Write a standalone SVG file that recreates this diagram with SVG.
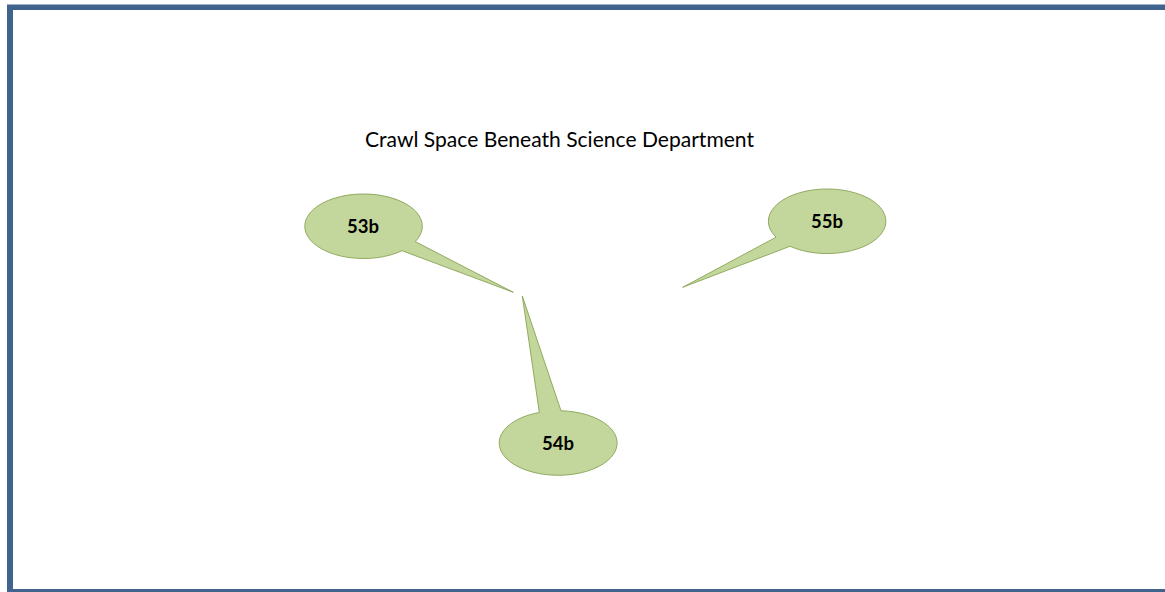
<svg xmlns="http://www.w3.org/2000/svg" width="1165" height="592" viewBox="0 0 1165 592">
<style>
.frame{fill:#41648f}
.callout{fill:#c3d69b;stroke:#7f9a48;stroke-width:.8;stroke-linejoin:miter}
text{font-family:Lato,"Liberation Sans",sans-serif;fill:#000}
.title{font-size:20.5px}
.label{font-size:18.5px;font-weight:700;text-anchor:middle}
</style>
<rect width="1165" height="592" fill="#fff"/>
<path id="frame" class="frame" d="M1165 4.5H7V592H1165V589H13V10H1165Z"/>
<text id="title" class="title" x="365" y="147" textLength="389" lengthAdjust="spacingAndGlyphs">Crawl Space Beneath Science Department</text>
<g id="node-53b">
<path class="callout" d="M415.3 241.6L513.3 292.3L402 250.7A58.8 32.3 0 1 1 415.3 241.6Z"/>
<text class="label" x="363" y="233">53b</text>
</g>
<g id="node-54b">
<path class="callout" d="M539.3 412.4L522.3 296L561 410.74A59 32.3 0 1 1 539.3 412.4Z"/>
<text class="label" x="558" y="450">54b</text>
</g>
<g id="node-55b">
<path class="callout" d="M776 237.2L682.7 287.3L790 246.3A58.8 32.3 0 1 0 776 237.2Z"/>
<text class="label" x="827" y="228">55b</text>
</g>
<g id="connectors"/>
</svg>
